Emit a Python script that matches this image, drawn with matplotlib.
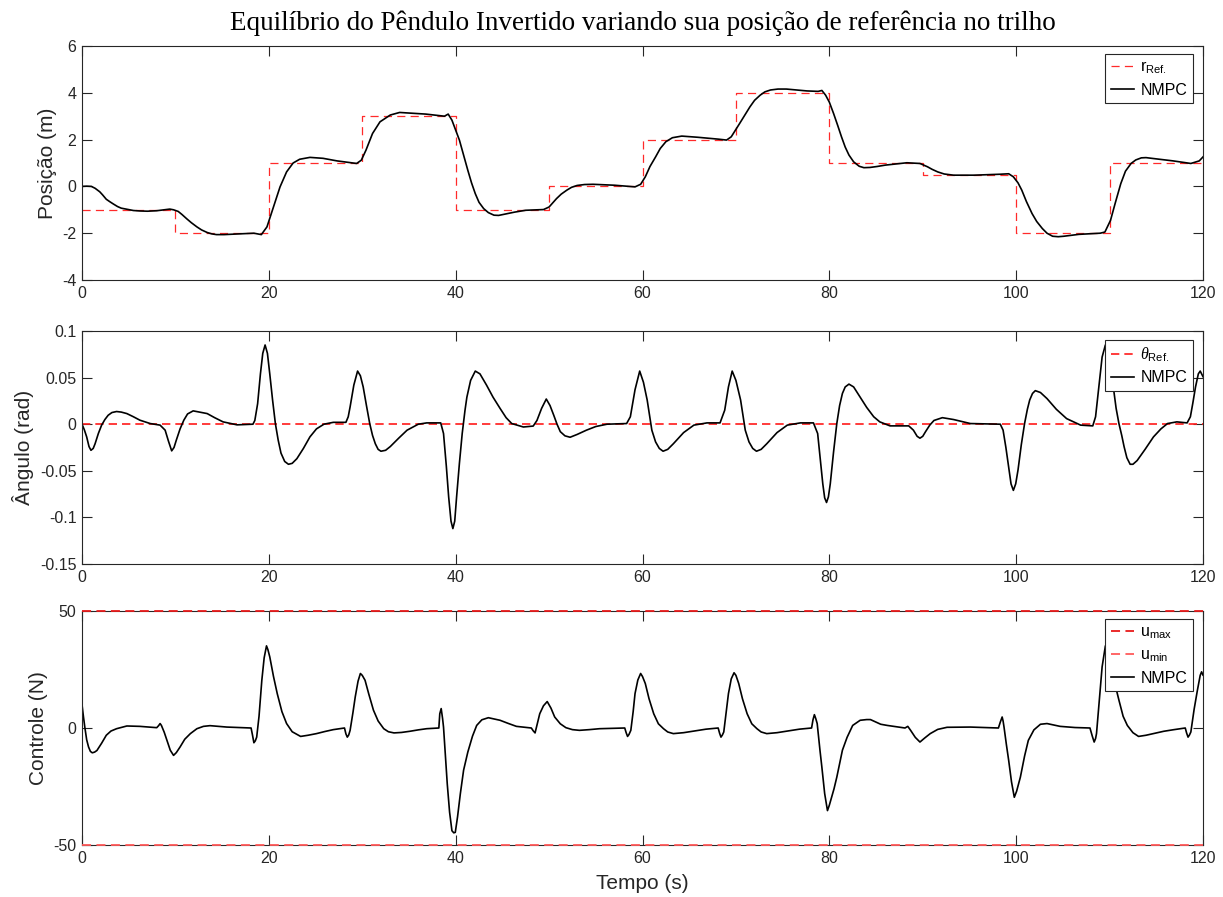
import matplotlib
matplotlib.use("Agg")
import matplotlib.pyplot as plt

# ---------------------------------------------------------------------------
# Reference trajectory for the cart position (piecewise constant, 10 s steps)
ref_edges = [0, 10, 20, 30, 40, 50, 60, 70, 80, 90, 100, 110, 120]
ref_levels = [-1, -2, 1, 3, -1, 0, 2, 4, 1, 0.5, -2, 1]

# Cart position under NMPC (m)
pos_t = [0.0, 0.5, 1.0, 1.4, 1.9, 2.2, 2.6, 3.0, 3.35, 3.8, 4.2, 4.96, 5.5,
         6.2, 7.0, 8.0, 9.4, 9.8, 10.3, 10.7, 11.2, 11.7, 12.3, 12.8, 13.4,
         13.9, 14.4, 15.2, 16.2, 18.4, 19.2, 19.8, 20.5, 21.2, 21.9, 22.6,
         23.3, 24.4, 25.8, 27.3, 29.0, 29.4, 29.9, 30.4, 31.1, 31.9, 33.0,
         34.0, 35.5, 36.8, 38.8, 39.2, 39.6, 40.4, 40.8, 41.3, 41.7, 42.1,
         42.5, 43.0, 43.5, 44.1, 44.6, 45.2, 46.3, 47.5, 49.4, 50.0, 50.8,
         51.3, 51.9, 52.4, 53.0, 53.8, 54.7, 57.0, 59.2, 59.8, 60.3, 60.8,
         61.4, 61.9, 62.5, 63.2, 64.2, 65.9, 68.1, 69.0, 69.5, 70.4, 71.0,
         71.5, 72.0, 72.6, 73.1, 73.7, 74.5, 75.4, 77.6, 78.8, 79.2, 79.6,
         80.0, 80.45, 80.9, 81.3, 81.7, 82.1, 82.6, 83.2, 83.7, 84.35, 85.1,
         86.0, 88.3, 89.7, 90.5, 91.0, 91.6, 92.3, 93.3, 95.5, 98.3, 99.2,
         99.7, 100.2, 100.6, 101.1, 101.7, 102.2, 102.8, 103.3, 103.9, 104.5,
         105.1, 106.7, 109.0, 109.5, 110.1, 110.6, 111.2, 111.7, 112.3,
         112.8, 113.4, 113.9, 114.5, 116.8, 118.7, 119.6, 120.0]
pos_v = [0.0, 0.01, 0.0, -0.08, -0.23, -0.36, -0.55, -0.66, -0.75, -0.86,
         -0.93, -0.99, -1.03, -1.05, -1.06, -1.04, -0.97, -1.0, -1.07, -1.2,
         -1.38, -1.55, -1.73, -1.86, -1.97, -2.03, -2.06, -2.06, -2.04, -2.0,
         -2.06, -1.73, -0.88, -0.02, 0.62, 1.0, 1.16, 1.24, 1.2, 1.09, 1.0,
         0.98, 1.12, 1.55, 2.26, 2.76, 3.05, 3.16, 3.12, 3.09, 3.0, 3.09,
         2.83, 1.98, 1.4, 0.69, 0.15, -0.31, -0.68, -0.95, -1.12, -1.23,
         -1.24, -1.19, -1.1, -1.02, -0.99, -0.88, -0.52, -0.33, -0.16, -0.04,
         0.04, 0.08, 0.09, 0.05, -0.02, 0.09, 0.41, 0.85, 1.26, 1.62, 1.91,
         2.08, 2.15, 2.1, 2.02, 1.98, 2.12, 2.69, 3.08, 3.40, 3.68, 3.90,
         4.04, 4.12, 4.16, 4.16, 4.08, 4.06, 4.1, 3.9, 3.6, 3.12, 2.6, 2.12,
         1.68, 1.34, 1.05, 0.86, 0.80, 0.81, 0.85, 0.91, 1.01, 0.98, 0.84,
         0.73, 0.62, 0.53, 0.48, 0.48, 0.52, 0.54, 0.41, 0.15, -0.16, -0.65,
         -1.16, -1.5, -1.8, -2.0, -2.13, -2.15, -2.13, -2.05, -2.0, -1.95,
         -1.45, -0.72, 0.12, 0.65, 0.98, 1.13, 1.22, 1.23, 1.2, 1.09, 0.98,
         1.09, 1.26]

# Pendulum angle under NMPC (rad)
ang_t = [0.0, 0.25, 0.5, 0.75, 0.96, 1.2, 1.4, 1.75, 2.1, 2.45, 2.8, 3.2,
         3.7, 4.2, 4.8, 5.5, 6.2, 7.3, 8.36, 8.9, 9.25, 9.6, 9.85, 10.1,
         10.5, 10.9, 11.3, 11.9, 12.6, 13.4, 14.2, 15.1, 16.6, 18.3, 18.5,
         18.8, 19.1, 19.35, 19.6, 19.85, 20.1, 20.4, 20.7, 21.0, 21.3, 21.7,
         22.1, 22.5, 23.0, 23.7, 24.4, 25.1, 25.9, 26.9, 28.25, 28.5, 28.7,
         29.1, 29.5, 29.8, 30.1, 30.45, 30.8, 31.1, 31.4, 31.7, 32.0, 32.5,
         33.0, 33.9, 34.8, 36.0, 36.9, 38.4, 38.7, 39.0, 39.25, 39.5, 39.7,
         39.9, 40.1, 40.4, 40.7, 41.0, 41.2, 41.6, 42.1, 42.6, 43.3, 44.0,
         44.75, 45.4, 46.0, 47.25, 48.3, 48.7, 49.2, 49.7, 50.1, 50.5,
         50.85, 51.2, 51.7, 52.25, 53.0, 54.0, 55.0, 56.2, 58.3, 58.7, 59.2,
         59.7, 60.1, 60.5, 61.0, 61.4, 61.8, 62.2, 62.7, 63.3, 64.4, 65.5,
         66.9, 68.3, 68.8, 69.2, 69.6, 70.0, 70.5, 71.0, 71.4, 71.8, 72.2,
         72.7, 73.3, 74.4, 75.5, 76.9, 78.3, 78.75, 79.0, 79.3, 79.5, 79.7,
         79.9, 80.1, 80.45, 80.8, 81.1, 81.4, 81.7, 82.1, 82.6, 83.3, 84.0,
         84.75, 85.4, 86.5, 88.5, 89.0, 89.4, 89.7, 90.0, 90.3, 90.75, 91.2,
         92.1, 93.3, 95.1, 98.3, 98.6, 98.9, 99.2, 99.45, 99.7, 99.95, 100.2,
         100.55, 100.9, 101.2, 101.45, 101.75, 102.05, 102.6, 103.3, 104.3,
         105.4, 106.9, 108.2, 108.5, 108.85, 109.2, 109.55, 109.85, 110.1,
         110.45, 110.7, 111.0, 111.3, 111.55, 111.85, 112.2, 112.5, 112.95,
         113.8, 114.7, 115.5, 116.2, 117.2, 118.3, 118.65, 118.9, 119.2,
         119.5, 119.7, 120.0]
ang_v = [0.0, -0.006, -0.0136, -0.024, -0.028, -0.026, -0.021, -0.01,
         -0.001, 0.005, 0.0096, 0.0125, 0.0136, 0.013, 0.0114, 0.008,
         0.0043, 0.0007, -0.001, -0.0064, -0.018, -0.0286, -0.025, -0.017,
         -0.005, 0.0043, 0.011, 0.0143, 0.013, 0.0114, 0.007, 0.0025,
         -0.0007, 0.0, 0.004, 0.022, 0.054, 0.076, 0.085, 0.076, 0.054,
         0.026, 0.0007, -0.017, -0.031, -0.04, -0.043, -0.042, -0.037,
         -0.026, -0.0136, -0.005, 0.0, 0.002, 0.002, 0.008, 0.0186, 0.042,
         0.057, 0.052, 0.04, 0.02, 0.0007, -0.012, -0.021, -0.027, -0.029,
         -0.028, -0.024, -0.015, -0.0064, 0.0, 0.0014, 0.0014, -0.01, -0.045,
         -0.078, -0.104, -0.112, -0.104, -0.078, -0.042, -0.01, 0.015, 0.029,
         0.047, 0.057, 0.054, 0.042, 0.029, 0.017, 0.007, 0.0007, -0.003,
         -0.002, 0.004, 0.017, 0.027, 0.02, 0.0096, 0.0, -0.008, -0.0125,
         -0.014, -0.011, -0.0064, -0.0025, 0.0, 0.0007, 0.008, 0.037, 0.057,
         0.045, 0.026, -0.0064, -0.019, -0.026, -0.029, -0.027, -0.021,
         -0.009, -0.001, 0.0014, 0.0014, 0.015, 0.04, 0.057, 0.047, 0.026,
         -0.0064, -0.019, -0.026, -0.029, -0.027, -0.021, -0.009, -0.001,
         0.0014, 0.0014, -0.01, -0.035, -0.064, -0.079, -0.084, -0.078,
         -0.064, -0.03, 0.0007, 0.02, 0.033, 0.04, 0.043, 0.04, 0.029, 0.018,
         0.008, 0.0025, -0.0018, -0.0018, -0.0064, -0.013, -0.015, -0.013,
         -0.008, -0.001, 0.004, 0.007, 0.005, 0.0007, 0.0, -0.0064, -0.025,
         -0.046, -0.064, -0.071, -0.064, -0.049, -0.022, 0.0007, 0.016, 0.026,
         0.033, 0.036, 0.034, 0.0275, 0.016, 0.006, -0.001, -0.0018, 0.008,
         0.04, 0.072, 0.085, 0.078, 0.065, 0.036, 0.017, 0.0007, -0.012,
         -0.024, -0.036, -0.043, -0.043, -0.039, -0.027, -0.0136, -0.005,
         0.0007, 0.0025, 0.0014, 0.008, 0.022, 0.04, 0.054, 0.057, 0.051]

# Control force under NMPC (N) and its bounds
u_max = 50
u_min = -50
ctl_t = [0.0, 0.15, 0.3, 0.5, 0.7, 0.9, 1.1, 1.35, 1.6, 2.1, 2.6, 3.1, 3.7,
         4.8, 6.2, 8.0, 8.2, 8.36, 8.5, 8.8, 9.1, 9.45, 9.8, 10.1, 10.5,
         11.0, 11.6, 12.3, 13.0, 13.7, 15.5, 18.1, 18.25, 18.4, 18.55, 18.7,
         18.95, 19.25, 19.5, 19.75, 19.9, 20.1, 20.5, 20.9, 21.4, 21.9, 22.5,
         23.4, 24.2, 25.1, 26.0, 26.9, 28.1, 28.25, 28.4, 28.55, 28.7, 29.0,
         29.25, 29.55, 29.8, 30.0, 30.3, 30.7, 31.2, 31.7, 32.3, 32.8, 33.4,
         34.2, 35.1, 36.0, 36.9, 38.2, 38.3, 38.45, 38.6, 38.7, 38.9, 39.1,
         39.35, 39.6, 39.8, 39.96, 40.2, 40.5, 40.85, 41.3, 41.8, 42.25,
         42.8, 43.5, 44.75, 45.6, 46.5, 48.1, 48.3, 48.5, 48.75, 49.0, 49.4,
         49.8, 50.2, 50.6, 51.2, 51.8, 52.5, 53.25, 54.3, 55.4, 58.1, 58.25,
         58.4, 58.55, 58.75, 59.0, 59.2, 59.5, 59.8, 60.0, 60.3, 60.7, 61.2,
         61.7, 62.25, 62.7, 63.3, 64.4, 65.5, 66.8, 68.1, 68.25, 68.4, 68.55,
         68.7, 68.95, 69.2, 69.5, 69.8, 70.0, 70.3, 70.7, 71.2, 71.7, 72.25,
         72.7, 73.3, 74.4, 75.5, 76.8, 78.1, 78.25, 78.4, 78.55, 78.7, 79.0,
         79.2, 79.5, 79.8, 80.0, 80.5, 80.8, 81.4, 81.9, 82.5, 83.3, 84.0,
         84.4, 85.5, 86.2, 88.1, 88.4, 88.7, 89.2, 89.7, 90.2, 90.8, 91.6,
         92.6, 95.1, 98.1, 98.3, 98.5, 98.6, 98.7, 98.95, 99.2, 99.5, 99.8,
         100.05, 100.45, 100.9, 101.3, 101.9, 102.6, 103.3, 104.7, 106.3,
         107.9, 108.15, 108.35, 108.5, 108.6, 108.9, 109.2, 109.55, 109.8,
         110.1, 110.5, 111.0, 111.45, 111.9, 112.5, 113.1, 113.9, 114.7,
         115.8, 116.9, 118.1, 118.25, 118.4, 118.55, 118.7, 119.05, 119.4,
         119.7, 119.85, 120.0]
ctl_v = [10.0, 5.0, 0.4, -5.0, -8.1, -10.0, -10.6, -10.3, -9.6, -6.5, -3.1,
         -1.3, -0.3, 0.86, 0.7, 0.14, 1.0, 1.9, 1.1, -1.8, -5.3, -9.5, -11.7,
         -10.5, -8.1, -4.8, -2.4, -0.3, 0.7, 1.0, 0.4, 0.0, -3.0, -6.3, -5.5,
         -3.9, 5.0, 20.4, 30.0, 35.1, 33.5, 30.4, 22.0, 14.7, 7.0, 1.9, -1.6,
         -3.6, -3.1, -2.4, -1.5, -0.7, 0.0, -2.5, -3.9, -3.0, -1.0, 6.5, 13.3,
         20.0, 23.3, 22.5, 20.4, 14.5, 7.6, 3.0, -0.3, -1.6, -2.1, -1.9, -1.4,
         -0.8, -0.3, 0.0, 6.1, 8.3, 4.0, 0.4, -12.0, -23.9, -36.0, -43.9,
         -44.8, -44.6, -38.0, -28.1, -18.0, -10.3, -3.5, 1.1, 3.5, 4.4, 3.3,
         2.0, 0.7, 0.0, -1.2, -2.1, 2.0, 6.1, 9.5, 11.3, 8.5, 4.7, 1.8, 0.14,
         -0.7, -1.0, -0.7, -0.3, 0.0, -2.0, -3.6, -2.8, -1.0, 7.0, 14.7, 20.5,
         23.3, 22.0, 19.0, 12.5, 6.1, 1.8, -0.3, -1.7, -2.4, -2.0, -1.3, -0.5,
         0.0, -2.2, -3.9, -3.0, -1.7, 6.5, 14.7, 21.0, 23.6, 22.5, 19.0, 12.5,
         6.1, 1.8, -0.3, -1.7, -2.4, -2.0, -1.3, -0.5, 0.0, 3.5, 5.7, 4.0,
         1.9, -9.6, -16.7, -28.0, -35.3, -33.0, -26.0, -21.0, -9.5, -4.0, 1.1,
         3.3, 3.6, 3.6, 1.6, 1.1, 0.0, 0.7, -1.0, -4.0, -6.0, -4.3, -2.4,
         -0.6, 0.3, 0.4, 0.0, 2.5, 4.7, 3.0, 0.4, -7.0, -13.9, -23.0, -29.6,
         -27.0, -21.0, -12.0, -5.3, -0.8, 1.6, 1.9, 0.7, 0.2, 0.0, -3.5, -6.0,
         -4.5, -2.4, 12.0, 26.1, 35.1, 33.0, 29.0, 20.0, 11.9, 5.0, 1.1, -2.0,
         -3.6, -3.1, -2.4, -1.4, -0.7, 0.0, -2.2, -3.9, -3.0, -1.7, 8.0, 16.1,
         22.5, 24.0, 22.6]

x_ticks = [0, 20, 40, 60, 80, 100, 120]
pos_ticks = [-4, -2, 0, 2, 4, 6]
ang_ticks = [-0.15, -0.1, -0.05, 0, 0.05, 0.1]
ang_ticklabels = ["-0.15", "-0.1", "-0.05", "0", "0.05", "0.1"]
ctl_ticks = [-50, 0, 50]

title = "Equilíbrio do Pêndulo Invertido variando sua posição de referência no trilho"

# ---------------------------------------------------------------------------
plt.rcParams.update({
    "font.family": ["Liberation Sans", "DejaVu Sans"],
    "axes.unicode_minus": False,
    "mathtext.fontset": "custom",
    "mathtext.rm": "Liberation Sans",
    "mathtext.it": "Liberation Serif:italic",
    "mathtext.bf": "Liberation Sans:bold",
})

AX_COLOR = "#262626"
W, H = 1223, 897
fig = plt.figure(figsize=(W / 100, H / 100), dpi=100)

left = 82 / W
width = (1203 - 82) / W
boxes = [(46, 280), (331, 564), (611, 845)]
axes = []
for top, bottom in boxes:
    ax = fig.add_axes([left, 1 - bottom / H, width, (bottom - top) / H])
    axes.append(ax)

ax1, ax2, ax3 = axes

dash = (5.0, 3.0)

# Position
ax1.step(ref_edges, ref_levels + [ref_levels[-1]], where="post",
         color="#ff2a2a", lw=0.9, dashes=(6.5, 4.2),
         label=r"$\mathregular{r_{Ref.}}$")
ax1.plot(pos_t, pos_v, color="black", lw=1.2, label="NMPC")
ax1.set_ylim(-4, 6)
ax1.set_yticks(pos_ticks)
ax1.set_ylabel("Posição (m)")

# Angle
ax2.plot([0, 120], [0, 0], color="#ff1a1a", lw=1.2, dashes=dash,
         label=r"$\theta_{\mathregular{Ref.}}$")
ax2.plot(ang_t, ang_v, color="black", lw=1.2, label="NMPC")
ax2.set_ylim(-0.15, 0.1)
ax2.set_yticks(ang_ticks)
ax2.set_yticklabels(ang_ticklabels)
ax2.set_ylabel("Ângulo (rad)")

# Control
ax3.plot([0, 120], [u_max, u_max], color="#e81a1a", lw=1.3, dashes=dash,
         clip_on=False, zorder=4, label=r"$\mathregular{u_{max}}$")
ax3.plot([0, 120], [u_min, u_min], color="#ff5a5a", lw=1.3, dashes=dash,
         clip_on=False, zorder=4, label=r"$\mathregular{u_{min}}$")
ax3.plot(ctl_t, ctl_v, color="black", lw=1.2, label="NMPC")
ax3.set_ylim(-50, 50)
ax3.set_yticks(ctl_ticks)
ax3.set_ylabel("Controle (N)")
ax3.set_xlabel("Tempo (s)", fontsize=15, color=AX_COLOR, labelpad=6)

legend_tops = [0.966, 0.961, 0.966]
for ax, ltop in zip(axes, legend_tops):
    ax.set_xlim(0, 120)
    ax.set_xticks(x_ticks)
    ax.tick_params(direction="in", top=True, right=True, length=7.5,
                   width=0.8, pad=4, labelsize=11.5, colors=AX_COLOR)
    for sp in ax.spines.values():
        sp.set_color(AX_COLOR)
        sp.set_linewidth(0.8)
    ax.yaxis.label.set_fontsize(15)
    ax.yaxis.label.set_color(AX_COLOR)
    ax.yaxis.labelpad = 4
    leg = ax.legend(loc="upper right", bbox_to_anchor=(0.991, ltop),
                    borderaxespad=0, fancybox=False, framealpha=1,
                    edgecolor="#262626", fontsize=11.5, handlelength=1.45,
                    handletextpad=0.4, borderpad=0.35, labelspacing=0.4)
    leg.get_frame().set_linewidth(0.8)

fig.text((82 + 1203) / 2 / W, 1 - 23 / H, title, ha="center", va="center",
         fontsize=19.5, family=["Liberation Serif", "DejaVu Serif"],
         color="black")

fig.savefig("out.png", dpi=100)
